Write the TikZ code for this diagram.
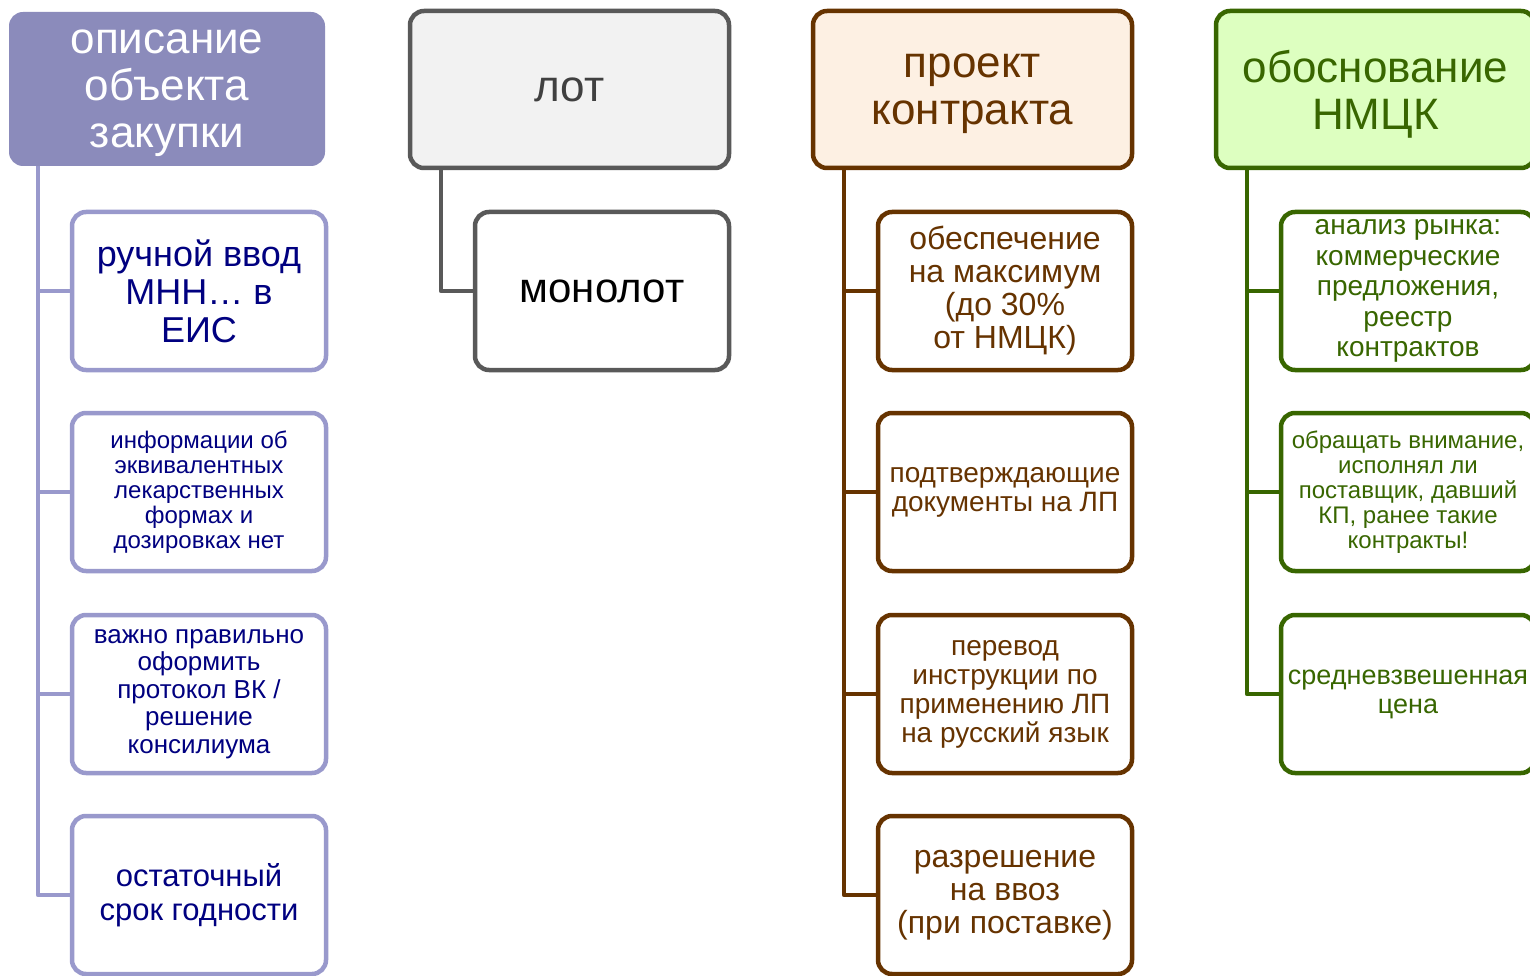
\documentclass[tikz,border=0pt]{standalone}
\usepackage{fontspec}
\setmainfont{Liberation Sans}
\definecolor{lilac}{RGB}{139,139,187}
\definecolor{lilacline}{RGB}{153,153,204}
\definecolor{navytext}{RGB}{0,0,128}
\definecolor{greyfill}{RGB}{242,242,242}
\definecolor{greyline}{RGB}{89,89,89}
\definecolor{greytext}{RGB}{64,64,64}
\definecolor{brownline}{RGB}{102,51,0}
\definecolor{peach}{RGB}{253,240,227}
\definecolor{greenline}{RGB}{56,102,0}
\definecolor{lightgreen}{RGB}{221,255,192}
\newcommand{\setfs}[2]{\fontsize{#1}{#2}\selectfont}
\begin{document}
\begin{tikzpicture}[x=1pt,y=-1pt,
    box/.style={rectangle, rounded corners=14pt, line width=4.5pt, outer sep=0pt,
      inner sep=2pt, align=center, minimum width=254pt, minimum height=158pt, fill=white},
    head/.style={box, minimum width=319pt, minimum height=157pt, text depth=0pt,
      font=\setfs{44}{47}},
    lilacbox/.style={box, draw=lilacline, text=navytext},
    greybox/.style={box, draw=greyline, text=black},
    brownbox/.style={box, draw=brownline, text=brownline},
    greenbox/.style={box, draw=greenline, text=greenline},
    link/.style={line width=4.5pt, line join=round}]
  \useasboundingbox (0,0) rectangle (1530,976);
  \clip (0,0) rectangle (1530,976);
  \draw
    (167,89) node[head, fill=lilac, draw=none, minimum width=316pt, minimum height=154pt,
      text=white] (h1) {описание\\объекта\\закупки}
    (569.5,89.5) node[head, fill=greyfill, draw=greyline, text=greytext] (h2) {лот}
    (972.5,89.5) node[head, fill=peach, draw=brownline, text=brownline] (h3) {проект\\контракта}
    (1375.5,89.5) node[head, fill=lightgreen, draw=greenline, text=greenline] (h4) {обоснование\\НМЦК};
  \draw
    (199,291) node[lilacbox, font=\setfs{36}{38}] (c11) {ручной ввод\\МНН… в\\ЕИС}
    (199,492) node[lilacbox, font=\setfs{24}{25}] (c12) {информации об\\эквивалентных\\лекарственных\\формах и\\дозировках нет}
    (199,694) node[lilacbox, font=\setfs{26}{27.5}] (c13) {важно правильно\\оформить\\протокол ВК /\\решение\\консилиума}
    (199,895) node[lilacbox, font=\setfs{31}{34}] (c14) {остаточный\\срок годности};
  \draw
    (602,291) node[greybox, font=\setfs{42}{44}] (c21) {монолот};
  \draw
    (1005,291) node[brownbox, font=\setfs{32}{33}] (c31) {обеспечение\\на максимум\\(до 30\%\\от НМЦК)}
    (1005,492) node[brownbox, font=\setfs{28}{29}] (c32) {подтверждающие\\документы на ЛП}
    (1005,694) node[brownbox, font=\setfs{28}{29}] (c33) {перевод\\инструкции по\\применению ЛП\\на русский язык}
    (1005,895) node[brownbox, font=\setfs{32}{33}] (c34) {разрешение\\на ввоз\\(при поставке)};
  \draw
    (1408,291) node[greenbox, font=\setfs{28}{30.5}] (c41) {анализ рынка:\\коммерческие\\предложения,\\реестр\\контрактов}
    (1408,492) node[greenbox, font=\setfs{24}{25}] (c42) {обращать внимание,\\исполнял ли\\поставщик, давший\\КП, ранее такие\\контракты!}
    (1408,694) node[greenbox, font=\setfs{27}{29}] (c43) {средневзвешенная\\цена};
  \begin{scope}[link]
    \draw[lilacline] ([xshift=29pt]h1.south west) |- (c11.west);
    \draw[lilacline] ([xshift=29pt]h1.south west) |- (c12.west);
    \draw[lilacline] ([xshift=29pt]h1.south west) |- (c13.west);
    \draw[lilacline] ([xshift=29pt]h1.south west) |- (c14.west);
    \draw[greyline] ([xshift=31pt]h2.south west) |- (c21.west);
    \draw[brownline] ([xshift=31pt]h3.south west) |- (c31.west);
    \draw[brownline] ([xshift=31pt]h3.south west) |- (c32.west);
    \draw[brownline] ([xshift=31pt]h3.south west) |- (c33.west);
    \draw[brownline] ([xshift=31pt]h3.south west) |- (c34.west);
    \draw[greenline] ([xshift=31pt]h4.south west) |- (c41.west);
    \draw[greenline] ([xshift=31pt]h4.south west) |- (c42.west);
    \draw[greenline] ([xshift=31pt]h4.south west) |- (c43.west);
  \end{scope}
\end{tikzpicture}
\end{document}
